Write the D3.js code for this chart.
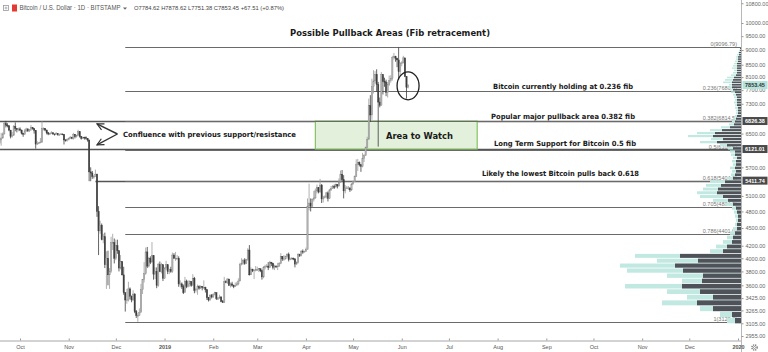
<!DOCTYPE html>
<html>
<head>
<meta charset="utf-8">
<script src="https://cdn.jsdelivr.net/npm/d3@7"></script>
<style>
  html, body { margin: 0; padding: 0; background: #fff; }
  svg { display: block; }
</style>
</head>
<body>
<div id="chart"></div>
<script>
// daily candles, Sep 18 2018 .. Jun 5 2019 (open = previous close)
var firstDay  = new Date(2018, 8, 18);
var firstOpen = 6260;

var closes = [
  6340,6390,6490,6760,6720,6700,6590,6430,6460,6680,6630,6600,6620,                                  // sep
  6590,6510,6480,6570,6620,6570,6600,6650,6630,6580,6240,6260,6270,6290,6630,6630,6590,6520,6490,6500,6520,6490,6480,6500,6470,6480,6490,6480,6340,6330,6350, // oct
  6380,6410,6380,6480,6420,6460,6550,6430,6380,6410,6400,6380,6340,5600,5575,5500,5500,5550,4800,4450,4550,4300,4350,3900,4000,3750,3800,4250,4250,4000,      // nov
  4200,4120,3850,3950,3750,3500,3400,3400,3550,3450,3400,3480,3250,3200,3200,3240,3540,3680,3770,4100,3880,4000,3940,4040,3760,3800,3600,3900,3800,3900,3700, // dec
  3850,3900,3800,3830,3800,4050,4000,4000,4000,3620,3620,3580,3500,3660,3580,3620,3650,3600,3700,3530,3540,3580,3560,3580,3570,3570,3540,3430,3400,3460,3440, // jan
  3470,3500,3420,3420,3440,3380,3370,3650,3640,3690,3600,3620,3600,3580,3600,3620,3660,3900,3920,3970,3920,3980,4130,3750,3830,3810,3820,3830,                // feb
  3830,3840,3810,3720,3860,3870,3880,3860,3940,3920,3860,3880,3870,3880,3920,4030,3990,3990,4030,4060,3980,3990,4000,3990,3910,3930,4060,4040,4110,4100,4110, // mar
  4140,4900,4960,4900,5030,5060,5200,5270,5180,5320,5040,5080,5080,5160,5050,5220,5250,5290,5280,5330,5300,5380,5550,5430,5200,5260,5260,5260,5220,5340,      // apr
  5390,5500,5760,5810,5760,5720,5900,5970,6160,6360,7250,6990,7810,7980,8190,7870,7350,7260,8190,7960,7950,7630,7880,7990,8050,8740,8770,8720,8660,8270,8550, // may
  8560,8730,8120,7784.62,7853.45                                                                      // jun
];
var highs = [
  6400,6520,6530,6800,6830,6770,6720,6590,6540,6720,6790,6640,6650,
  6660,6600,6520,6620,6650,6630,6620,6720,6660,6640,6590,6310,6290,6390,6820,6660,6640,6600,6540,6520,6560,6540,6500,6540,6510,6500,6510,6500,6490,6360,6380,
  6400,6440,6420,6520,6490,6470,6600,6560,6440,6420,6420,6430,6390,6350,5700,5620,5530,5650,5560,4900,4630,4580,4400,4420,4110,4120,3850,4350,4400,4320,
  4300,4300,4120,4050,3950,3870,3500,3550,3650,3570,3460,3530,3490,3270,3230,3290,3620,3690,3940,4170,4180,4020,4030,4260,4040,3860,3860,3930,3950,3930,3900,
  3860,3960,3900,3840,3870,4090,4080,4100,4050,4030,3670,3640,3610,3720,3680,3670,3670,3660,3760,3720,3560,3610,3600,3600,3590,3670,3580,3540,3440,3480,3480,
  3490,3510,3500,3440,3470,3450,3400,3720,3670,3700,3690,3640,3650,3610,3640,3650,3700,3930,4000,3990,4000,3990,4160,4210,3860,3840,3830,3880,
  3870,3850,3840,3830,3880,3900,3910,3940,3960,3940,3930,3900,3890,3930,3940,4080,4030,4050,4040,4080,4090,4010,4020,4010,4000,3950,4080,4070,4130,4140,4120,
  4170,5050,5350,5050,5050,5200,5250,5330,5270,5450,5340,5100,5110,5180,5190,5240,5300,5320,5330,5350,5340,5460,5630,5640,5530,5320,5300,5300,5270,5360,
  5410,5520,5880,5890,5830,5760,6030,6000,6180,6420,7450,7550,8050,8320,8290,8350,7950,7480,8260,8140,8080,8020,7950,8150,8160,8800,8900,8800,8730,9096.79,8590,
  8620,8800,8730,8120,7878.62
];
var lows = [
  6250,6200,6370,6480,6660,6660,6560,6380,6400,6440,6560,6530,6560,
  6560,6480,6420,6470,6540,6540,6540,6570,6600,6500,6130,6220,6240,6260,6270,6580,6560,6480,6460,6470,6500,6470,6450,6470,6450,6450,6470,6460,6230,6300,6300,
  6330,6370,6360,6350,6380,6400,6450,6400,6350,6370,6350,6350,6300,5400,5400,5450,5450,5500,4700,4050,4400,4290,4240,3850,3550,3600,3550,3780,4130,3920,
  3970,4070,3800,3830,3740,3470,3250,3350,3380,3410,3370,3390,3230,3170,3122.4,3200,3240,3480,3640,3750,3850,3860,3910,3940,3680,3690,3560,3580,3790,3770,3660,
  3690,3820,3760,3760,3780,3780,3990,3960,3980,3580,3570,3550,3480,3500,3560,3570,3580,3580,3600,3490,3500,3470,3540,3550,3530,3560,3500,3400,3380,3390,3420,
  3430,3460,3400,3400,3420,3370,3360,3360,3630,3620,3590,3570,3580,3560,3580,3600,3600,3660,3890,3900,3900,3910,3960,3740,3750,3790,3690,3800,
  3810,3790,3790,3680,3700,3830,3860,3820,3850,3880,3830,3820,3850,3820,3870,3910,3960,3960,3980,4010,3950,3970,3980,3970,3860,3900,3920,4020,4030,4070,4090,
  4100,4140,4820,4800,4880,4990,5040,5150,5150,5160,4960,4970,5050,5050,4990,5040,5200,5240,5240,5270,5250,5290,5370,5400,5050,5150,5240,5220,5180,5200,
  5330,5380,5490,5620,5720,5600,5700,5820,5960,6130,6350,6800,6860,7600,7900,7650,6178,7200,7250,7570,7800,7520,7480,7830,7930,7990,8670,8600,8420,8020,8120,
  8450,8550,8100,7450,7751.38
];

// fib retracement
var fibRatios = ["0", "0.236", "0.382", "0.5", "0.618", "0.705", "0.786", "1"];
var fibPrices = [9096.79, 7686.8, 6814.5, 6109.6, 5404.6, 4884.9, 4401.0, 3122.4];
var fibLabels = ["9096.79", "7686.8", "6814.5", "6109.6", "5404.6", "4884.9", "4401.0", "3122.4"];
var fibStart  = new Date(2018, 11, 7);

// horizontal levels (with price tags)
var levelPrices = [6826.38, 6121.01, 5411.74];
var levelStarts = [new Date(2018, 8, 1), new Date(2018, 8, 1), new Date(2018, 10, 18)];
var lastPrice   = 7853.45;

// visible range volume profile, rows of 75 from 3100
var vpStart = 3100, vpStep = 75;
var vpTotal = [14,21,41,79,54,74,116,59,74,114,121,84,106,31,25,18,14,11,8,6,5,6,7,9,16,28,41,44,38,35,31,14,10,9,11,8,9,8,10,11,
               13,21,41,30,53,44,31,20,12,9,8,6,5,5,6,6,7,6,7,8,10,11,14,12,18,16,14,10,8,7,9,8,7,6,5,5,4,3,2,1];
var vpDark  = [6,9,28,44,28,41,59,39,38,58,66,43,61,18,14,9,8,6,4,4,3,3,4,5,8,13,18,24,23,20,16,8,6,5,6,5,5,4,6,6,
               8,14,24,18,28,26,19,11,7,6,5,4,3,3,3,4,4,4,4,5,6,8,9,9,9,8,7,5,4,4,4,4,4,3,3,3,2,2,1,1];

// axes
var priceTicks = [2955,3105,3265,3425,3600,3800,4000,4200,4500,4800,5100,5700,6500,7300,7700,8100,8500,9000,9500,10000,10800];
var monthTicks = [new Date(2018,9,1),new Date(2018,10,1),new Date(2018,11,1),new Date(2019,0,1),new Date(2019,1,1),new Date(2019,2,1),new Date(2019,3,1),
                  new Date(2019,4,1),new Date(2019,5,1),new Date(2019,6,1),new Date(2019,7,1),new Date(2019,8,1),new Date(2019,9,1),new Date(2019,10,1),
                  new Date(2019,11,1),new Date(2020,0,1)];
var monthLabels = ["Oct","Nov","Dec","2019","Feb","Mar","Apr","May","Jun","Jul","Aug","Sep","Oct","Nov","Dec","2020"];

// build candle rows
var candles = closes.map(function(c, i) {
  return {
    date: d3.timeDay.offset(firstDay, i),
    open: i === 0 ? firstOpen : closes[i - 1],
    high: highs[i], low: lows[i], close: c
  };
});

var W = 768, H = 352, axisX = 741, axisY = 341;

var x = d3.scaleTime()
          .domain([new Date(2018, 9, 1), new Date(2020, 0, 1)])
          .range([20, 738]);
var y = d3.scaleLog()
          .domain([10000, 2955])
          .range([23, 336]);
var vx = d3.scaleLinear().domain([0, 100]).range([0, 100]);

var svg = d3.select("#chart").append("svg")
            .attr("width", W).attr("height", H)
            .style("font-family", "'Liberation Sans', Arial, sans-serif");

svg.append("defs").append("clipPath").attr("id", "plot")
   .append("rect").attr("x", 0).attr("y", 0).attr("width", axisX).attr("height", axisY);

svg.append("defs").append("marker")
   .attr("id", "head").attr("viewBox", "0 0 10 10")
   .attr("refX", 9).attr("refY", 5)
   .attr("markerWidth", 6).attr("markerHeight", 6)
   .attr("orient", "auto-start-reverse")
   .append("path").attr("d", "M1,1 L9,5 L1,9").attr("fill", "none")
   .attr("stroke", "#333").attr("stroke-width", 1.4);

var plot = svg.append("g").attr("clip-path", "url(#plot)");

// confluence lines from the left + tag levels
plot.selectAll("line.level")
    .data(levelPrices)
    .enter().append("line")
      .attr("class", "level")
      .attr("x1", function(d, i) { return x(levelStarts[i]); })
      .attr("x2", axisX)
      .attr("y1", function(d) { return Math.round(y(d)) + 0.5; })
      .attr("y2", function(d) { return Math.round(y(d)) + 0.5; })
      .attr("stroke", "#555").attr("stroke-width", 1.3);

// area to watch
plot.append("rect")
    .attr("x", x(new Date(2019, 3, 7)))
    .attr("y", y(levelPrices[0]))
    .attr("width", x(new Date(2019, 6, 19)) - x(new Date(2019, 3, 7)))
    .attr("height", y(levelPrices[1]) - y(levelPrices[0]))
    .attr("fill", "#e3f0db").attr("stroke", "#86c266").attr("stroke-width", 1.2);

// fib lines
plot.selectAll("line.fib")
    .data(fibPrices)
    .enter().append("line")
      .attr("class", "fib")
      .attr("x1", x(fibStart)).attr("x2", axisX)
      .attr("y1", function(d) { return Math.round(y(d)) + 0.5; })
      .attr("y2", function(d) { return Math.round(y(d)) + 0.5; })
      .attr("stroke", "#6a6a6a").attr("stroke-width", 1);

// fib labels
plot.selectAll("text.fib")
    .data(fibPrices)
    .enter().append("text")
      .attr("class", "fib")
      .attr("x", 737)
      .attr("y", function(d) { return Math.round(y(d)) - 1; })
      .attr("text-anchor", "end")
      .attr("font-size", 5.5)
      .attr("fill", "#777")
      .text(function(d, i) { return fibRatios[i] + "(" + fibLabels[i] + ")"; });

// volume profile
var vpRows = vpTotal.map(function(t, i) {
  var lo = vpStart + i * vpStep;
  return { lo: lo, hi: lo + vpStep, total: t, dark: vpDark[i] };
});
var vp = plot.append("g");
vp.selectAll("rect.tot")
  .data(vpRows).enter().append("rect")
    .attr("x", function(d) { return axisX - vx(d.total); })
    .attr("y", function(d) { return y(d.hi) + 0.4; })
    .attr("width", function(d) { return vx(d.total); })
    .attr("height", function(d) { return Math.max(0.8, y(d.lo) - y(d.hi) - 0.8); })
    .attr("fill", "#c2e9e1");
vp.selectAll("rect.dark")
  .data(vpRows).enter().append("rect")
    .attr("x", function(d) { return axisX - vx(d.dark); })
    .attr("y", function(d) { return y(d.hi) + 0.4; })
    .attr("width", function(d) { return vx(d.dark); })
    .attr("height", function(d) { return Math.max(0.8, y(d.lo) - y(d.hi) - 0.8); })
    .attr("fill", "#4f5259");

// candles
var cg = plot.append("g");
cg.selectAll("line.wick")
  .data(candles).enter().append("line")
    .attr("x1", function(d) { return x(d.date); })
    .attr("x2", function(d) { return x(d.date); })
    .attr("y1", function(d) { return y(d.high); })
    .attr("y2", function(d) { return y(d.low); })
    .attr("stroke", function(d) { return d.close >= d.open ? "#9c9c9c" : "#3e3e3e"; })
    .attr("stroke-width", 0.8);
cg.selectAll("rect.body")
  .data(candles).enter().append("rect")
    .attr("x", function(d) { return x(d.date) - 0.65; })
    .attr("y", function(d) { return y(Math.max(d.open, d.close)); })
    .attr("width", 1.3)
    .attr("height", function(d) { return Math.max(0.8, Math.abs(y(d.open) - y(d.close))); })
    .attr("fill", function(d) { return d.close >= d.open ? "#b4b4b4" : "#3e3e3e"; })
    .attr("stroke", function(d) { return d.close >= d.open ? "#8a8a8a" : "#3e3e3e"; })
    .attr("stroke-width", 0.4);

// circle around last candles
plot.append("ellipse")
    .attr("cx", x(new Date(2019, 5, 5)))
    .attr("cy", y(7830))
    .attr("rx", 11).attr("ry", 14)
    .attr("fill", "none").attr("stroke", "#222").attr("stroke-width", 1.3);

// double arrow
var arrowPts = [[new Date(2018, 10, 19), 6750], [new Date(2018, 11, 2), 6490], [new Date(2018, 10, 19), 6220]];
svg.append("path")
   .attr("d", "M" + x(arrowPts[1][0]) + "," + y(arrowPts[1][1]) + " L" + x(arrowPts[0][0]) + "," + y(arrowPts[0][1]))
   .attr("stroke", "#333").attr("stroke-width", 1.4).attr("fill", "none").attr("marker-end", "url(#head)");
svg.append("path")
   .attr("d", "M" + x(arrowPts[1][0]) + "," + y(arrowPts[1][1]) + " L" + x(arrowPts[2][0]) + "," + y(arrowPts[2][1]))
   .attr("stroke", "#333").attr("stroke-width", 1.4).attr("fill", "none").attr("marker-end", "url(#head)");

// annotation text
var notes = [
  { t: "Possible Pullback Areas (Fib retracement)", x: 390, y: 36, s: 8.6, w: 200 },
  { t: "Confluence with previous support/resistance", x: 209.5, y: 136.5, s: 7.2, w: 173 },
  { t: "Bitcoin currently holding at 0.236 fib", x: 563, y: 88.5, s: 7.2, w: 140 },
  { t: "Popular major pullback area 0.382 fib", x: 563, y: 118.5, s: 7.2, w: 144 },
  { t: "Area to Watch", x: 419.5, y: 139, s: 9.2, w: 67 },
  { t: "Long Term Support for Bitcoin 0.5 fib", x: 565, y: 145.5, s: 7.2, w: 142 },
  { t: "Likely the lowest Bitcoin pulls back 0.618", x: 560.5, y: 175.5, s: 7.2, w: 157 }
];
svg.selectAll("text.note")
   .data(notes).enter().append("text")
     .attr("class", "note")
     .attr("x", function(d) { return d.x; })
     .attr("y", function(d) { return d.y; })
     .attr("text-anchor", "middle")
     .attr("font-family", "'DejaVu Sans', Verdana, sans-serif")
     .attr("font-weight", "bold")
     .attr("font-size", function(d) { return d.s; })
     .attr("textLength", function(d) { return d.w; })
     .attr("lengthAdjust", "spacingAndGlyphs")
     .attr("fill", "#1a1a1a")
     .text(function(d) { return d.t; });

// right price axis
svg.append("line")
   .attr("x1", axisX + 0.5).attr("x2", axisX + 0.5).attr("y1", 0).attr("y2", H)
   .attr("stroke", "#b8b8b8").attr("stroke-width", 1);
var yAxis = svg.append("g")
   .attr("transform", "translate(" + (axisX + 0.5) + ",0)")
   .call(d3.axisRight(y).tickValues(priceTicks).tickFormat(d3.format(".2f")).tickSize(2).tickPadding(2));
yAxis.select(".domain").remove();
yAxis.selectAll("line").attr("stroke", "#999");
yAxis.selectAll("text").attr("font-size", 5.5).attr("fill", "#666").attr("font-family", "'Liberation Sans', Arial, sans-serif");

// price tags
var tags = [lastPrice].concat(levelPrices);
svg.selectAll("g.tag")
   .data(tags).enter().append("g")
     .attr("class", "tag")
     .attr("transform", function(d) { return "translate(" + (axisX + 1.5) + "," + y(d) + ")"; })
     .each(function(d, i) {
       var g = d3.select(this);
       g.append("rect").attr("x", 0).attr("y", -4).attr("width", 25).attr("height", 8)
        .attr("fill", i === 0 ? "#b3e3da" : "#4a4a4a");
       g.append("text").attr("x", 12.5).attr("y", 2).attr("text-anchor", "middle")
        .attr("font-size", 5.5).attr("font-weight", "bold")
        .attr("fill", i === 0 ? "#333" : "#fff")
        .text(d3.format(".2f")(d));
     });

// bottom time axis
svg.append("line")
   .attr("x1", 0).attr("x2", axisX).attr("y1", axisY).attr("y2", axisY)
   .attr("stroke", "#c4c4c4").attr("stroke-width", 1.6);
var xAxis = svg.append("g")
   .attr("transform", "translate(0," + (axisY - 2.5) + ")")
   .call(d3.axisBottom(x).tickValues(monthTicks).tickSize(2).tickPadding(5)
           .tickFormat(function(d, i) { return monthLabels[i]; }));
xAxis.select(".domain").remove();
xAxis.selectAll("line").attr("stroke", "#999");
xAxis.selectAll("text").attr("font-size", 5.5).attr("fill", "#555")
     .attr("font-family", "'Liberation Sans', Arial, sans-serif")
     .attr("font-weight", function(d, i) { return (monthLabels[i] === "2019" || monthLabels[i] === "2020") ? "bold" : null; });

// gear icon
svg.append("circle").attr("cx", 754.5).attr("cy", 347.5).attr("r", 2.6)
   .attr("fill", "none").attr("stroke", "#777").attr("stroke-width", 1.4)
   .attr("stroke-dasharray", "1.2,0.9");
svg.append("circle").attr("cx", 754.5).attr("cy", 347.5).attr("r", 1)
   .attr("fill", "#fff").attr("stroke", "#777").attr("stroke-width", 0.7);

// header
var hdr = svg.append("g");
hdr.append("rect").attr("x", 3.5).attr("y", 5.5).attr("width", 5).attr("height", 5)
   .attr("fill", "none").attr("stroke", "#999").attr("stroke-width", 0.8);
hdr.append("path").attr("d", "M6,6.5 V9.5 M4.5,8 H7.5").attr("stroke", "#999").attr("stroke-width", 0.7);
hdr.append("rect").attr("x", 12).attr("y", 4.5).attr("width", 5).attr("height", 7).attr("fill", "#e53935");
hdr.append("text").attr("x", 19.5).attr("y", 10.2).attr("font-size", 6.4).attr("fill", "#555")
   .attr("textLength", 101).attr("lengthAdjust", "spacingAndGlyphs")
   .text("Bitcoin / U.S. Dollar \u00b7 1D \u00b7 BITSTAMP");
hdr.append("path").attr("d", "M123,7.5 L127,7.5 L125,9.8 Z").attr("fill", "#666");
hdr.append("text").attr("x", 134).attr("y", 10.2).attr("font-size", 5.6).attr("fill", "#444")
   .attr("textLength", 150).attr("lengthAdjust", "spacingAndGlyphs")
   .text("O7784.62  H7878.62  L7751.38  C7853.45  +67.51 (+0.87%)");
</script>
</body>
</html>
